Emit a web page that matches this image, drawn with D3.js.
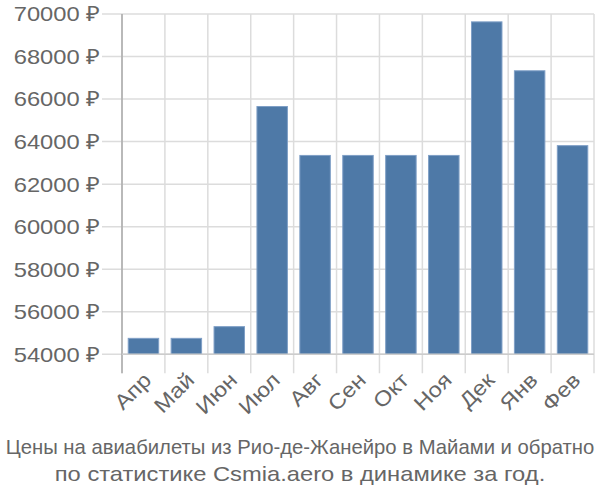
<!DOCTYPE html>
<html>
<head>
<meta charset="utf-8">
<script src="https://cdn.jsdelivr.net/npm/d3@7"></script>
<style>
  html, body { margin: 0; padding: 0; background: #fff; }
  svg { display: block; }
  text { font-family: "Liberation Sans", Arial, sans-serif; fill: #666; }
</style>
</head>
<body>
<svg id="chart" width="600" height="500"></svg>
<script>
const categories = ["Апр", "Май", "Июн", "Июл", "Авг", "Сен", "Окт", "Ноя", "Дек", "Янв", "Фев"];
const values = [54750, 54750, 55300, 65650, 63350, 63350, 63350, 63350, 69630, 67330, 63810];
const yTicks = [54000, 56000, 58000, 60000, 62000, 64000, 66000, 68000, 70000];
const titleLines = [
  "Цены на авиабилеты из Рио-де-Жанейро в Майами и обратно",
  "по статистике Csmia.aero в динамике за год."
];

const svg = d3.select("#chart");
const margin = { left: 122, right: 6, top: 14, bottom: 145 };
const W = 600, H = 500;
const SX = 1.13; // horizontal text stretch seen in the reference
const FS = "21px";

const x = d3.scaleBand().domain(categories).range([margin.left, W - margin.right]).paddingInner(0.29).paddingOuter(0.145);
const xGrid = d3.scaleBand().domain(categories).range([margin.left, W - margin.right]);
const y = d3.scaleLinear().domain([54000, 70000]).range([H - margin.bottom - 0.7, margin.top]);

const g = svg.append("g");

// horizontal grid + y ticks
g.selectAll(".hgrid").data(yTicks).enter().append("line")
  .attr("x1", margin.left - 20).attr("x2", W - margin.right)
  .attr("y1", d => y(d)).attr("y2", d => y(d))
  .attr("stroke", "#dcdcdc").attr("stroke-width", 1.5);

// vertical grid lines at band boundaries + tick extensions
const bounds = categories.map(c => xGrid(c)).concat([W - margin.right]);
g.selectAll(".vgrid").data(bounds).enter().append("line")
  .attr("x1", d => d).attr("x2", d => d)
  .attr("y1", margin.top).attr("y2", y(54000) + 19)
  .attr("stroke", "#dcdcdc").attr("stroke-width", 1.5);

// y axis line
g.append("line")
  .attr("x1", margin.left).attr("x2", margin.left)
  .attr("y1", margin.top).attr("y2", y(54000) + 19)
  .attr("stroke", "#aaaaaa").attr("stroke-width", 1.5);

// bars
g.selectAll(".bar").data(values).enter().append("rect")
  .attr("x", (d, i) => x(categories[i]))
  .attr("width", x.bandwidth())
  .attr("y", d => y(d))
  .attr("height", d => y(54000) - y(d))
  .attr("fill", "#4e79a7")
  .attr("stroke", "#7f9fc6").attr("stroke-width", 1);

// x axis baseline
g.append("line")
  .attr("x1", margin.left).attr("x2", W - margin.right)
  .attr("y1", y(54000)).attr("y2", y(54000))
  .attr("stroke", "#cccccc").attr("stroke-width", 1.5);

// y labels
g.selectAll(".ylab").data(yTicks).enter().append("text")
  .attr("transform", d => `translate(${margin.left - 22},${y(d)}) scale(${SX},1)`)
  .attr("dy", "0.35em").attr("text-anchor", "end")
  .style("font-size", FS)
  .text(d => d + " ₽");

// x labels
g.selectAll(".xlab").data(categories).enter().append("text")
  .attr("transform", c => `translate(${xGrid(c) + xGrid.bandwidth() / 2 + 4},${y(54000) + 22}) rotate(-45) scale(${SX},1)`)
  .attr("text-anchor", "end")
  .attr("dy", "0.35em")
  .style("font-size", FS)
  .text(c => c);

// title
svg.append("text")
  .attr("x", W / 2).attr("y", 454)
  .attr("text-anchor", "middle")
  .style("font-size", "20.3px")
  .text(titleLines[0]);
svg.append("text")
  .attr("transform", `translate(${W / 2},481) scale(${SX},1)`)
  .attr("text-anchor", "middle")
  .style("font-size", FS)
  .text(titleLines[1]);
</script>
</body>
</html>
